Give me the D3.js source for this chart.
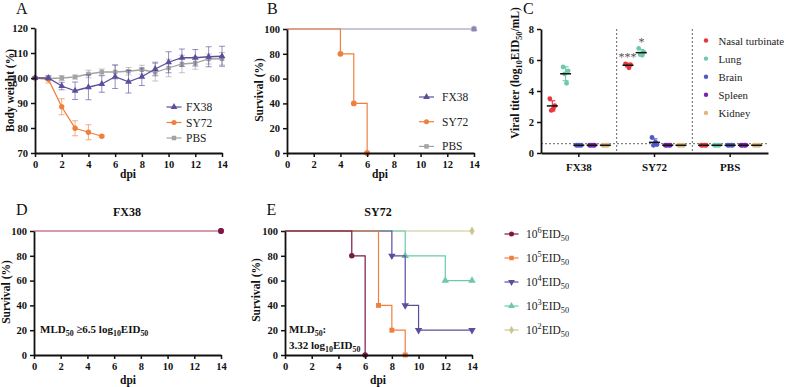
<!DOCTYPE html>
<html>
<head>
<meta charset="utf-8">
<script src="https://cdn.jsdelivr.net/npm/d3@7"></script>
<style>
  body { margin: 0; background: #fff; }
  svg, svg text { font-family: "Liberation Serif", "Times New Roman", serif; }
</style>
</head>
<body>
<div id="fig"></div>
<script>
////////////////////////////////////////////////////////////////////////
// Data

// A: body weight (%) by dpi
let days = [0, 1, 2, 3, 4, 5, 6, 7, 8, 9, 10, 11, 12, 13, 14];
let fx38Weight   = [100, 100, 96.8, 94.9, 96.3, 97.6, 100.5, 98.5, 100.5, 103.6, 106.3, 108.1, 108.1, 108.5, 108.7];
let fx38WeightSD = [0.4, 0.8, 1.5, 3.5, 5.0, 3.3, 4.7, 4.5, 3.5, 2.7, 4.2, 3.5, 3.3, 4.0, 4.0];
let pbsWeight    = [100, 99.8, 100, 100.4, 101.6, 102.4, 102.4, 102.7, 103.3, 102.3, 104, 105.6, 106, 107.6, 107.7];
let pbsWeightSD  = [0.3, 0.5, 1.0, 0.8, 1.5, 1.2, 2.8, 1.5, 1.8, 3.5, 3.5, 3.5, 2.5, 2.0, 2.5];
let sy72Days     = [0, 1, 2, 3, 4, 5];
let sy72Weight   = [100, 99.5, 88.5, 79.9, 78.3, 76.7];
let sy72WeightSD = [0.4, 1.5, 3.2, 3.0, 3.0, 0.4];

// B: survival (%) steps, [dpi, value]
let survFX38 = [[0, 100], [14, 100]];
let survPBS  = [[0, 100], [14, 100]];
let survSY72 = [[0, 100], [4, 80], [5, 40], [6, 0]];

// C: viral titer (log10 EID50/mL), one list of values per group and organ
let groups = ["FX38", "SY72", "PBS"];
let organs = ["Nasal turbinate", "Lung", "Brain", "Spleen", "Kidney"];
let titers = {
  "FX38": [[3.5, 3.05, 2.75, 2.85], [5.55, 5.3, 5.1, 4.5], [0.5, 0.5, 0.5, 0.5], [0.5, 0.5, 0.5, 0.5], [0.5, 0.5, 0.5, 0.5]],
  "SY72": [[5.75, 5.7, 5.7, 5.5], [6.75, 6.5, 6.35, 6.3], [1.0, 0.55, 0.5, 0.7], [0.5, 0.5, 0.5, 0.5], [0.5, 0.5, 0.5, 0.5]],
  "PBS":  [[0.5, 0.5, 0.5, 0.5], [0.5, 0.5, 0.5, 0.5], [0.5, 0.5, 0.5, 0.5], [0.5, 0.5, 0.5, 0.5], [0.5, 0.5, 0.5, 0.5]]
};
let detectionLimit = 0.6;

// D: FX38 survival by dose (all doses survived)
let survD = [[0, 100], [14, 100]];

// E: SY72 survival by dose
let doses = ["6", "5", "4", "3", "2"];
let survE = [
  [[0, 100], [5, 80], [6, 0]],
  [[0, 100], [7, 40], [8, 20], [9, 0]],
  [[0, 100], [8, 80], [9, 40], [10, 20], [14, 20]],
  [[0, 100], [9, 80], [12, 60], [14, 60]],
  [[0, 100], [14, 100]]
];

////////////////////////////////////////////////////////////////////////
// Styles

let cFX38 = "#5b4f9d", cSY72 = "#f07f3e", cPBS = "#a3a3a3";
let organColors = ["#e8363f", "#6dc9aa", "#5159c6", "#7a22a8", "#e0b878"];
let doseColors = ["#7c1846", "#f07f3e", "#5b4f9d", "#6dc9aa", "#c9c78f"];
let doseSymbols = [d3.symbolCircle, d3.symbolSquare, "down", d3.symbolTriangle, d3.symbolDiamond];
let serif = "Liberation Serif, Times New Roman, serif";

let svg = d3.select("#fig").append("svg").attr("width", 786).attr("height", 387);

////////////////////////////////////////////////////////////////////////
// Helpers

// text with sub/superscripts: parts = [[string, "sub"|"sup"|null], ...]
function rich(t, parts, fs) {
  let shift = 0;
  parts.forEach(function(p) {
    let target = p[1] === "sub" ? fs * 0.3 : p[1] === "sup" ? -fs * 0.4 : 0;
    t.append("tspan")
      .attr("dy", target - shift)
      .attr("font-size", p[1] ? fs * 0.72 : fs)
      .text(p[0]);
    shift = target;
  });
  return t;
}

function symbolPath(type, size) {
  if (type === "down") return d3.symbol().type(d3.symbolTriangle).size(size)();
  return d3.symbol().type(type).size(size)();
}

function styleAxis(g) {
  g.attr("font-family", serif).style("font-family", serif);
  g.select(".domain").attr("stroke", "#111").attr("stroke-width", 1.8);
  g.selectAll(".tick line").attr("stroke", "#111").attr("stroke-width", 1.5);
  g.selectAll(".tick text")
    .attr("fill", "#111")
    .attr("font-size", 10.5)
    .attr("font-weight", "bold")
    .style("font-family", serif);
}

function drawAxes(x, y, xTicks, yTicks) {
  let yBottom = y.range()[0];
  let xLeft = x.range()[0];
  svg.append("g")
    .attr("transform", "translate(0," + yBottom + ")")
    .call(d3.axisBottom(x).tickValues(xTicks).tickSize(4).tickSizeOuter(0).tickPadding(4).tickFormat(d3.format("d")))
    .call(styleAxis);
  svg.append("g")
    .attr("transform", "translate(" + xLeft + ",0)")
    .call(d3.axisLeft(y).tickValues(yTicks).tickSize(4).tickSizeOuter(0).tickPadding(3).tickFormat(d3.format("d")))
    .call(styleAxis);
}

function panelLetter(txt, x, y) {
  svg.append("text").attr("x", x).attr("y", y).attr("font-size", 16).attr("fill", "#111").text(txt);
}

function yTitle(parts, x, cy) {
  let t = svg.append("text")
    .attr("transform", "translate(" + x + "," + cy + ") rotate(-90)")
    .attr("text-anchor", "middle")
    .attr("font-size", 11.5)
    .attr("font-weight", "bold")
    .attr("fill", "#111");
  rich(t, parts, 11.5);
}

function xTitle(txt, cx, y) {
  svg.append("text").attr("x", cx).attr("y", y).attr("text-anchor", "middle")
    .attr("font-size", 11.5).attr("font-weight", "bold").attr("fill", "#111").text(txt);
}

function stepSeries(pts, x, y, color, sym, size, lw) {
  svg.append("path")
    .attr("d", d3.line().curve(d3.curveStepAfter).x(function(d) { return x(d[0]); }).y(function(d) { return y(d[1]); })(pts))
    .attr("fill", "none").attr("stroke", color).attr("stroke-width", lw || 1.2);
  svg.append("g").selectAll("path")
    .data(pts.slice(1))
    .enter().append("path")
    .attr("d", symbolPath(sym, size))
    .attr("transform", function(d) {
      return "translate(" + x(d[0]) + "," + y(d[1]) + ")" + (sym === "down" ? " rotate(180)" : "");
    })
    .attr("fill", color);
}

function legendRow(x0, y0, color, sym, size, lineLen) {
  svg.append("line").attr("x1", x0 - lineLen / 2).attr("x2", x0 + lineLen / 2)
    .attr("y1", y0).attr("y2", y0).attr("stroke", color).attr("stroke-width", 1.2);
  svg.append("path").attr("d", symbolPath(sym, size))
    .attr("transform", "translate(" + x0 + "," + y0 + ")" + (sym === "down" ? " rotate(180)" : ""))
    .attr("fill", color);
}

////////////////////////////////////////////////////////////////////////
// Panel A: body weight

let xA = d3.scaleLinear().domain([0, 14]).range([35, 222]);
let yA = d3.scaleLinear().domain([70, 120]).range([153, 28]);

function weightSeries(ds, vals, sds, color, sym, size) {
  let g = svg.append("g");
  let rows = ds.map(function(d, i) { return { d: d, v: vals[i], s: sds[i] }; });
  rows.forEach(function(r) {
    g.append("line").attr("x1", xA(r.d)).attr("x2", xA(r.d)).attr("y1", yA(r.v - r.s)).attr("y2", yA(r.v + r.s))
      .attr("stroke", color).attr("stroke-width", 0.9).attr("opacity", 0.7);
    [r.v - r.s, r.v + r.s].forEach(function(e) {
      g.append("line").attr("x1", xA(r.d) - 3).attr("x2", xA(r.d) + 3).attr("y1", yA(e)).attr("y2", yA(e))
        .attr("stroke", color).attr("stroke-width", 0.9).attr("opacity", 0.7);
    });
  });
  g.append("path")
    .attr("d", d3.line().x(function(r) { return xA(r.d); }).y(function(r) { return yA(r.v); })(rows))
    .attr("fill", "none").attr("stroke", color).attr("stroke-width", 1.3);
  g.selectAll(".m").data(rows).enter().append("path")
    .attr("d", symbolPath(sym, size))
    .attr("transform", function(r) { return "translate(" + xA(r.d) + "," + yA(r.v) + ")"; })
    .attr("fill", color);
}

weightSeries(days, pbsWeight, pbsWeightSD, cPBS, d3.symbolSquare, 20);
weightSeries(sy72Days, sy72Weight, sy72WeightSD, cSY72, d3.symbolCircle, 22);
weightSeries(days, fx38Weight, fx38WeightSD, cFX38, d3.symbolTriangle, 20);
drawAxes(xA, yA, [0, 2, 4, 6, 8, 10, 12, 14], [70, 80, 90, 100, 110, 120]);
panelLetter("A", 16, 14);
yTitle([["Body weight  (%)", null]], 14, 90.5);
xTitle("dpi", 128, 178);

let legA = [["FX38", cFX38, d3.symbolTriangle], ["SY72", cSY72, d3.symbolCircle], ["PBS", cPBS, d3.symbolSquare]];
legA.forEach(function(l, i) {
  let yy = 107 + i * 15.5;
  legendRow(174, yy, l[1], l[2], 20, 15);
  svg.append("text").attr("x", 186).attr("y", yy + 4).attr("font-size", 11.5).attr("fill", "#222").text(l[0]);
});

////////////////////////////////////////////////////////////////////////
// Panel B: survival

let xB = d3.scaleLinear().domain([0, 14]).range([287, 474]);
let yB = d3.scaleLinear().domain([0, 100]).range([153, 29]);
stepSeries(survPBS, xB, yB, "#b7b2cf", d3.symbolSquare, 22);
stepSeries(survFX38, xB, yB, "#b7b2cf", d3.symbolTriangle, 22);
svg.append("path").attr("d", symbolPath(d3.symbolSquare, 22)).attr("transform", "translate(" + xB(14) + "," + yB(100) + ")").attr("fill", "#8a86b0");
stepSeries(survSY72, xB, yB, cSY72, d3.symbolCircle, 26);
drawAxes(xB, yB, [0, 2, 4, 6, 8, 10, 12, 14], [0, 20, 40, 60, 80, 100]);
panelLetter("B", 267, 14);
yTitle([["Survival (%)", null]], 263, 90);
xTitle("dpi", 380, 178);

legA.forEach(function(l, i) {
  let yy = 97 + i * 24.7;
  legendRow(426.5, yy, l[1], l[2], 20, 15);
  svg.append("text").attr("x", 442).attr("y", yy + 4).attr("font-size", 11.5).attr("fill", "#222").text(l[0]);
});

////////////////////////////////////////////////////////////////////////
// Panel C: viral titers

let xC = d3.scaleBand().domain(groups).range([541, 768]);
let oC = d3.scalePoint().domain(organs).range([-26.5, 26.5]);
let yC = d3.scaleLinear().domain([0, 8]).range([153, 29]);

// group dividers and detection limit
[groups[1], groups[2]].forEach(function(g) {
  svg.append("line").attr("x1", xC(g)).attr("x2", xC(g)).attr("y1", 29).attr("y2", 153)
    .attr("stroke", "#555").attr("stroke-width", 0.9).attr("stroke-dasharray", "2,2");
});
svg.append("line").attr("x1", 541).attr("x2", 768).attr("y1", yC(detectionLimit)).attr("y2", yC(detectionLimit))
  .attr("stroke", "#555").attr("stroke-width", 0.9).attr("stroke-dasharray", "2,2");

groups.forEach(function(g) {
  organs.forEach(function(o, oi) {
    let vals = titers[g][oi];
    let cx = xC(g) + xC.bandwidth() / 2 + oC(o);
    let mean = d3.mean(vals), sd = d3.deviation(vals);
    let col = organColors[oi];
    if (sd > 0.05) {
      svg.append("line").attr("x1", cx).attr("x2", cx).attr("y1", yC(mean - sd)).attr("y2", yC(mean + sd))
        .attr("stroke", col).attr("stroke-width", 1.1);
      [mean - sd, mean + sd].forEach(function(e) {
        svg.append("line").attr("x1", cx - 3).attr("x2", cx + 3).attr("y1", yC(e)).attr("y2", yC(e))
          .attr("stroke", col).attr("stroke-width", 1.1);
      });
    }
    let spread = [-2.5, 2.5, -1, 1];
    svg.append("g").selectAll("circle").data(vals).enter().append("circle")
      .attr("cx", function(d, i) { return cx + spread[i]; })
      .attr("cy", function(d) { return yC(d); })
      .attr("r", 2.4)
      .attr("fill", col);
    svg.append("line").attr("x1", cx - 5.5).attr("x2", cx + 5.5).attr("y1", yC(mean)).attr("y2", yC(mean))
      .attr("stroke", "#111").attr("stroke-width", 1.5);
  });
});

let gxC = svg.append("g").attr("transform", "translate(0,153)")
  .call(d3.axisBottom(xC).tickSize(4).tickSizeOuter(0).tickPadding(6)).call(styleAxis);
gxC.selectAll(".tick text").attr("font-size", 11);
svg.append("g").attr("transform", "translate(541,0)")
  .call(d3.axisLeft(yC).tickValues([0, 2, 4, 6, 8]).tickSize(4).tickSizeOuter(0).tickPadding(3)).call(styleAxis);

svg.append("text").attr("x", 627.5).attr("y", 61).attr("text-anchor", "middle").attr("font-size", 12).attr("fill", "#555").text("***");
svg.append("text").attr("x", 641.5).attr("y", 45.5).attr("text-anchor", "middle").attr("font-size", 12).attr("fill", "#555").text("*");

panelLetter("C", 523, 14);
yTitle([["Viral titer (log", null], ["10", "sub"], ["EID", null], ["50", "sub"], ["/mL)", null]], 519, 73);

organs.forEach(function(o, i) {
  let yy = 40.5 + i * 18.1;
  svg.append("circle").attr("cx", 706).attr("cy", yy).attr("r", 2.2).attr("fill", organColors[i]);
  svg.append("text").attr("x", 718.5).attr("y", yy + 4).attr("font-size", 10.8).attr("fill", "#222").text(o);
});

////////////////////////////////////////////////////////////////////////
// Panel D: FX38 survival

let xD = d3.scaleLinear().domain([0, 14]).range([34, 221]);
let yD = d3.scaleLinear().domain([0, 100]).range([355, 231]);
stepSeries(survD, xD, yD, "#b4365f", d3.symbolCircle, 26, 1.1);
svg.append("path").attr("d", symbolPath(d3.symbolCircle, 26)).attr("transform", "translate(" + xD(14) + "," + yD(100) + ")").attr("fill", doseColors[0]);
drawAxes(xD, yD, [0, 2, 4, 6, 8, 10, 12, 14], [0, 20, 40, 60, 80, 100]);
panelLetter("D", 16, 215);
svg.append("text").attr("x", 127).attr("y", 215.5).attr("text-anchor", "middle").attr("font-size", 12)
  .attr("font-weight", "bold").attr("fill", "#111").text("FX38");
yTitle([["Survival (%)", null]], 9.5, 292);
xTitle("dpi", 128, 384);
rich(svg.append("text").attr("x", 40).attr("y", 333).attr("font-size", 11).attr("font-weight", "bold").attr("fill", "#111"),
  [["MLD", null], ["50", "sub"], [" ≥6.5 log", null], ["10", "sub"], ["EID", null], ["50", "sub"]], 11);

////////////////////////////////////////////////////////////////////////
// Panel E: SY72 survival

let xE = d3.scaleLinear().domain([0, 14]).range([285, 472]);
let yE = d3.scaleLinear().domain([0, 100]).range([355, 231]);
for (let i = survE.length - 1; i >= 0; i--) {
  stepSeries(survE[i], xE, yE, doseColors[i], doseSymbols[i], 24, 1.2);
}
drawAxes(xE, yE, [0, 2, 4, 6, 8, 10, 12, 14], [0, 20, 40, 60, 80, 100]);
panelLetter("E", 266.5, 215);
svg.append("text").attr("x", 378).attr("y", 215.5).attr("text-anchor", "middle").attr("font-size", 12)
  .attr("font-weight", "bold").attr("fill", "#111").text("SY72");
yTitle([["Survival (%)", null]], 260, 290);
xTitle("dpi", 378, 384);
rich(svg.append("text").attr("x", 289).attr("y", 333).attr("font-size", 11).attr("font-weight", "bold").attr("fill", "#111"),
  [["MLD", null], ["50", "sub"], [":", null]], 11);
rich(svg.append("text").attr("x", 289).attr("y", 348.5).attr("font-size", 11).attr("font-weight", "bold").attr("fill", "#111"),
  [["3.32 log", null], ["10", "sub"], ["EID", null], ["50", "sub"]], 11);

doses.forEach(function(d, i) {
  let yy = 234 + i * 24;
  legendRow(511.5, yy, doseColors[i], doseSymbols[i], 20, 14);
  rich(svg.append("text").attr("x", 526).attr("y", yy + 4).attr("font-size", 11.5).attr("fill", "#222"),
    [["10", null], [d, "sup"], ["EID", null], ["50", "sub"]], 11.5);
});
</script>
</body>
</html>
